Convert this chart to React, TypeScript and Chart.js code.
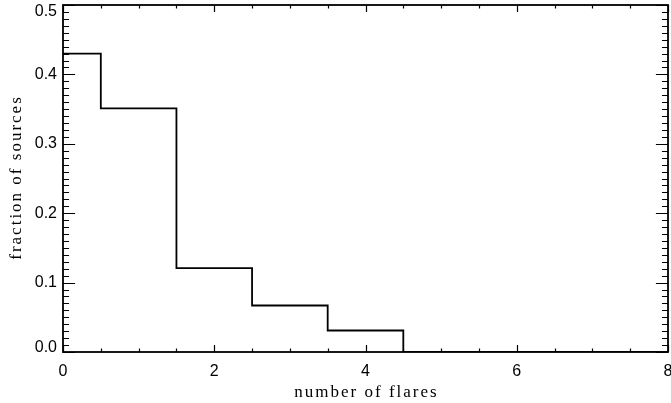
import React, { useEffect, useRef } from "react";
import { Chart, registerables } from "chart.js";

Chart.register(...registerables);

// number of flares (bin centres)
const flareCounts = [0, 1, 2, 3, 4, 5, 6, 7, 8];
// fraction of sources in each bin
const fractions = [0.430, 0.351, 0.121, 0.067, 0.031, 0, 0, 0, 0];

const xMajorTicks = [0, 2, 4, 6, 8];
const yMajorTicks = [0.0, 0.1, 0.2, 0.3, 0.4, 0.5];
const xMinorStep = 0.5;
const yMinorStep = 0.01;

const xTitle = "number of flares";
const yTitle = "fraction of sources";

function isMajor(list: number[], v: number) {
  for (let k = 0; k < list.length; k++) if (Math.abs(list[k] - v) < 1e-6) return true;
  return false;
}

const idlFrame = {
  id: "idlFrame",
  beforeDraw(chart: any) {
    // keep the end labels of the y axis inside the frame, as in the original
    const ys = chart.scales.y;
    const items = ys.getLabelItems(chart.chartArea);
    if (items && items.length) {
      const first = items[0];
      const last = items[items.length - 1];
      if (!first._shifted) {
        first.options.translation = [first.options.translation[0], first.options.translation[1] - 4];
        first._shifted = true;
      }
      if (!last._shifted) {
        last.options.translation = [last.options.translation[0], last.options.translation[1] + 7];
        last._shifted = true;
      }
    }
  },
  afterDraw(chart: any) {
    const ctx = chart.ctx as CanvasRenderingContext2D;
    const a = chart.chartArea;
    const xs = chart.scales.x;
    const ys = chart.scales.y;
    const h = a.bottom - a.top;
    const w = a.right - a.left;
    const xMaj = 0.02 * h;
    const yMaj = 0.02 * w;

    ctx.save();
    ctx.strokeStyle = "#000";
    ctx.lineWidth = 1.2;

    const nx = Math.round((8 - 0) / xMinorStep);
    for (let i = 0; i <= nx; i++) {
      const v = i * xMinorStep;
      const len = isMajor(xMajorTicks, v) ? xMaj : xMaj / 2;
      const px = Math.round(xs.getPixelForValue(v)) + 0.5;
      ctx.beginPath();
      ctx.moveTo(px, a.bottom);
      ctx.lineTo(px, a.bottom - len);
      ctx.moveTo(px, a.top);
      ctx.lineTo(px, a.top + len);
      ctx.stroke();
    }
    const ny = Math.round(0.5 / yMinorStep);
    for (let i = 0; i <= ny; i++) {
      const v = i * yMinorStep;
      const len = isMajor(yMajorTicks, v) ? yMaj : yMaj / 2;
      const py = Math.round(ys.getPixelForValue(v)) + 0.5;
      ctx.beginPath();
      ctx.moveTo(a.left, py);
      ctx.lineTo(a.left + len, py);
      ctx.moveTo(a.right, py);
      ctx.lineTo(a.right - len, py);
      ctx.stroke();
    }

    ctx.lineWidth = 1.8;
    ctx.strokeRect(a.left, a.top, a.right - a.left, a.bottom - a.top);

    ctx.fillStyle = "#000";
    ctx.font = "17px 'Liberation Serif', serif";
    (ctx as any).letterSpacing = "2px";
    ctx.textAlign = "center";
    ctx.textBaseline = "alphabetic";
    ctx.fillText(xTitle, (a.left + a.right) / 2 + 1, 397);
    ctx.translate(21, (a.top + a.bottom) / 2);
    ctx.rotate(-Math.PI / 2);
    ctx.fillText(yTitle, 1, 0);
    ctx.restore();
  },
};

export default function App() {
  const ref = useRef<HTMLCanvasElement>(null);

  useEffect(() => {
    document.body.style.margin = "0";
    const canvas = ref.current!;
    const chart = new Chart(canvas, {
      type: "line",
      data: {
        labels: flareCounts,
        datasets: [
          {
            data: flareCounts.map((x, i) => ({ x, y: fractions[i] })),
            stepped: "middle",
            borderColor: "#000",
            borderWidth: 1.8,
            pointRadius: 0,
            fill: false,
          },
        ],
      },
      options: {
        animation: false,
        responsive: false,
        maintainAspectRatio: false,
        devicePixelRatio: 1,
        layout: { padding: { top: 5, right: 3, left: 0, bottom: 0 } },
        plugins: { legend: { display: false }, tooltip: { enabled: false } },
        scales: {
          x: {
            type: "linear",
            min: 0,
            max: 8,
            afterFit: (s: any) => {
              s.height = 51;
              s.paddingLeft = 0;
              s.paddingRight = 0;
            },
            afterBuildTicks: (s: any) => {
              s.ticks = xMajorTicks.map((v) => ({ value: v }));
            },
            grid: { display: false, drawTicks: false },
            border: { display: false },
            ticks: {
              color: "#000",
              padding: 10,
              maxRotation: 0,
              autoSkip: false,
              font: { family: "'Liberation Sans', sans-serif", size: 16 },
              callback: (v: any) => String(v),
            },
          },
          y: {
            type: "linear",
            min: 0,
            max: 0.5,
            afterFit: (s: any) => {
              s.width = 63;
              s.paddingTop = 0;
              s.paddingBottom = 0;
            },
            afterBuildTicks: (s: any) => {
              s.ticks = yMajorTicks.map((v) => ({ value: v }));
            },
            grid: { display: false, drawTicks: false },
            border: { display: false },
            ticks: {
              color: "#000",
              padding: 6,
              autoSkip: false,
              font: { family: "'Liberation Sans', sans-serif", size: 16 },
              callback: (v: any) => Number(v).toFixed(1),
            },
          },
        },
      },
      plugins: [idlFrame],
    });
    return () => chart.destroy();
  }, []);

  return (
    <div style={{ width: 671, height: 403, background: "#fff" }}>
      <canvas ref={ref} width={671} height={403} style={{ display: "block" }} />
    </div>
  );
}
